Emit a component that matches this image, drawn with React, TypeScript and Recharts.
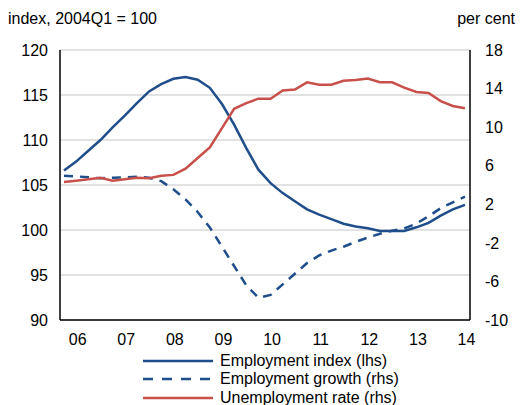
import React from "react";
import { LineChart, Line, XAxis, YAxis, CartesianGrid, Legend } from "recharts";

const quarters = [
  "2006Q1","2006Q2","2006Q3","2006Q4",
  "2007Q1","2007Q2","2007Q3","2007Q4",
  "2008Q1","2008Q2","2008Q3","2008Q4",
  "2009Q1","2009Q2","2009Q3","2009Q4",
  "2010Q1","2010Q2","2010Q3","2010Q4",
  "2011Q1","2011Q2","2011Q3","2011Q4",
  "2012Q1","2012Q2","2012Q3","2012Q4",
  "2013Q1","2013Q2","2013Q3","2013Q4",
  "2014Q1","2014Q2",
];

const employmentIndex = [
  106.6, 107.6, 108.8, 110.0, 111.4, 112.7, 114.1, 115.4,
  116.2, 116.8, 117.0, 116.7, 115.8, 114.0, 111.7, 109.1,
  106.7, 105.2, 104.1, 103.2, 102.3, 101.7, 101.2, 100.7,
  100.4, 100.2, 99.9, 99.9, 99.9, 100.3, 100.8, 101.6,
  102.3, 102.8,
];

const employmentGrowth = [
  4.95, 4.9, 4.8, 4.7, 4.75, 4.8, 4.85, 4.75,
  4.4, 3.55, 2.5, 1.2, -0.4, -2.4, -4.4, -6.4,
  -7.7, -7.4, -6.3, -5.2, -4.1, -3.3, -2.8, -2.4,
  -1.9, -1.45, -1.05, -0.75, -0.5, 0.0, 0.75, 1.6,
  2.2, 2.8,
];

const unemploymentRate = [
  4.3, 4.45, 4.6, 4.75, 4.45, 4.6, 4.75, 4.7,
  4.95, 5.05, 5.7, 6.8, 7.9, 9.9, 11.9, 12.5,
  12.95, 12.95, 13.8, 13.9, 14.65, 14.4, 14.4, 14.8,
  14.9, 15.05, 14.65, 14.65, 14.1, 13.65, 13.55, 12.7,
  12.2, 11.95,
];

const xTickQuarters = ["2006Q2","2007Q2","2008Q2","2009Q2","2010Q2","2011Q2","2012Q2","2013Q2","2014Q2"];
const xTickLabels = ["06","07","08","09","10","11","12","13","14"];
const leftTicks = [90, 95, 100, 105, 110, 115, 120];
const rightTicks = [-10, -6, -2, 2, 6, 10, 14, 18];

const seriesNames = ["Employment index (lhs)", "Employment growth (rhs)", "Unemployment rate (rhs)"];
const leftAxisTitle = "index, 2004Q1 = 100";
const rightAxisTitle = "per cent";

const BLUE = "#1F4E8A";
const RED = "#C8504B";
const FONT = "'Liberation Sans', Arial, sans-serif";
const FS = 16;

const data = quarters.map((q, i) => ({
  quarter: q,
  index: employmentIndex[i],
  growth: employmentGrowth[i],
  rate: unemploymentRate[i],
}));

const renderLegend = (props: any) => {
  const payload = [...(props.payload || [])].sort(
    (a: any, b: any) => seriesNames.indexOf(a.value) - seriesNames.indexOf(b.value)
  );
  return (
    <div style={{ fontFamily: FONT, fontSize: FS, color: "#000" }}>
      {payload.map((p: any) => (
        <div key={p.value} style={{ display: "flex", alignItems: "center", height: 18.3, whiteSpace: "nowrap" }}>
          <svg width={70} height={6} style={{ marginRight: 7 }}>
            <line
              x1={0}
              y1={3}
              x2={70}
              y2={3}
              stroke={p.color}
              strokeWidth={2.5}
              strokeDasharray={p.value === seriesNames[1] ? "10 9" : undefined}
            />
          </svg>
          <span>{p.value}</span>
        </div>
      ))}
    </div>
  );
};

export default function App() {
  return (
    <div style={{ position: "absolute", left: 0, top: 0, width: 523, height: 405, background: "#fff" }}>
      <div style={{ position: "absolute", left: 8, top: 10, fontFamily: FONT, fontSize: FS, color: "#000", whiteSpace: "nowrap" }}>
        {leftAxisTitle}
      </div>
      <div style={{ position: "absolute", right: 8, top: 10, fontFamily: FONT, fontSize: FS, color: "#000", whiteSpace: "nowrap" }}>
        {rightAxisTitle}
      </div>
      <LineChart
        width={523}
        height={405}
        data={data}
        margin={{ top: 50, right: 0, bottom: 55, left: 0 }}
        style={{ position: "absolute", left: 0, top: 0 }}
      >
        <CartesianGrid yAxisId="left" vertical={false} stroke="#d9d9d9" strokeWidth={1.5} />
        <XAxis
          dataKey="quarter"
          type="category"
          ticks={xTickQuarters}
          interval={0}
          tickFormatter={(v: string) => xTickLabels[xTickQuarters.indexOf(v)]}
          padding={{ left: 4, right: 5 }}
          tickLine={false}
          tickSize={6}
          tickMargin={8}
          height={30}
          axisLine={{ stroke: "#000", strokeWidth: 1.5 }}
          tick={{ fill: "#000", fontSize: FS, fontFamily: FONT, dx: 1.5 }}
        />
        <XAxis
          xAxisId="top"
          dataKey="quarter"
          orientation="top"
          tick={false}
          tickLine={false}
          height={0}
          axisLine={{ stroke: "#000", strokeWidth: 1.5 }}
        />
        <YAxis
          yAxisId="left"
          domain={[90, 120]}
          ticks={leftTicks}
          interval={0}
          width={60}
          tickLine={false}
          tickSize={6}
          tickMargin={6}
          axisLine={{ stroke: "#000", strokeWidth: 1.5 }}
          tick={{ fill: "#000", fontSize: FS, fontFamily: FONT }}
        />
        <YAxis
          yAxisId="right"
          orientation="right"
          domain={[-10, 18]}
          ticks={rightTicks}
          interval={0}
          width={53}
          tickLine={false}
          tickSize={6}
          tickMargin={9}
          axisLine={{ stroke: "#000", strokeWidth: 1.5 }}
          tick={{ fill: "#000", fontSize: FS, fontFamily: FONT, textAnchor: "start" }}
        />
        <Line
          yAxisId="right"
          dataKey="growth"
          name={seriesNames[1]}
          stroke={BLUE}
          strokeWidth={2.5}
          strokeDasharray="9 7"
          dot={false}
          activeDot={false}
          isAnimationActive={false}
        />
        <Line
          yAxisId="left"
          dataKey="index"
          name={seriesNames[0]}
          stroke={BLUE}
          strokeWidth={2.5}
          dot={false}
          activeDot={false}
          isAnimationActive={false}
        />
        <Line
          yAxisId="right"
          dataKey="rate"
          name={seriesNames[2]}
          stroke={RED}
          strokeWidth={2.5}
          dot={false}
          activeDot={false}
          isAnimationActive={false}
        />
        <Legend
          layout="vertical"
          verticalAlign="middle"
          align="center"
          content={renderLegend}
          wrapperStyle={{ left: 143, top: 352, width: 320, right: "auto", bottom: "auto" }}
        />
      </LineChart>
    </div>
  );
}
